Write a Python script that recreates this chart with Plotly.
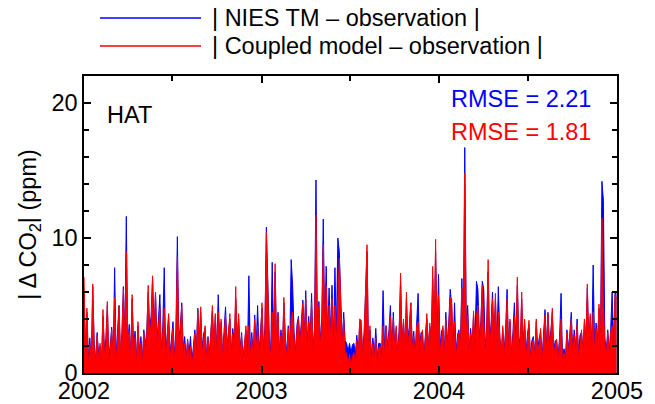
import pandas as pd
import plotly.graph_objects as go

# |model - observation| CO2 at HAT, sampled every 3 days starting 2002-01-01
start_date = "2002-01-01"
step = "3D"

red_2002 = [
    7.1, 1.2, 4.8, 0.6, 2.1, 1.0, 6.6, 1.8, 0.5, 2.8,
    0.9, 2.2, 0.4, 4.7, 1.3, 2.0, 5.3, 0.8, 1.6, 3.2,
    1.1, 5.6, 0.7, 2.4, 5.0, 1.5, 2.6, 6.2, 1.9, 9.0,
    2.3, 3.1, 0.9, 5.8, 1.4, 2.7, 0.6, 3.8, 1.2, 2.2,
    0.5, 3.0, 1.6, 2.5, 6.5, 2.8, 3.6, 7.2, 2.4, 6.0,
    1.8, 3.4, 4.8, 1.1, 2.9, 4.8, 0.7, 2.3, 4.4, 1.0,
    2.1, 3.3, 0.8, 2.6, 8.6, 2.0, 3.0, 5.0, 1.3, 2.2,
    0.6, 2.4, 0.9, 2.0, 0.4, 1.7, 2.9, 1.1, 4.7, 1.9,
    4.9, 1.4, 2.5, 3.5, 0.8, 2.5, 1.0, 2.7, 5.0, 1.6,
    4.4, 1.2, 4.5, 2.0, 4.0, 0.9, 2.6, 4.3, 1.5, 2.8,
    4.4, 1.0, 2.9, 1.7, 6.4, 2.1, 4.4, 1.3, 2.8, 0.7,
    1.9, 3.5, 0.8, 3.5, 1.2, 2.6, 0.9, 4.0, 1.5, 3.5,
    1.0, 2.4,
]
red_2003 = [
    5.2, 1.3, 3.0, 10.4, 6.2, 2.2, 1.1, 4.5,
    2.0, 8.1, 1.7, 4.3, 0.9, 2.8, 1.4, 5.6, 2.3, 1.0,
    3.3, 1.2, 4.0, 4.5, 2.6, 1.1, 3.2, 4.0, 1.8, 3.4,
    5.2, 2.4, 5.5, 1.6, 3.8, 2.2, 5.2, 1.4, 3.0, 11.7,
    2.6, 5.0, 1.9, 3.6, 9.5, 2.8, 6.4, 2.1, 5.0, 2.5,
    5.5, 1.8, 5.0, 2.3, 5.2, 8.5, 5.0, 1.7, 4.0, 1.3,
    1.5, 0.6, 1.4, 0.5, 1.2, 1.5, 0.7, 2.4, 1.0, 4.0,
    3.9, 1.1, 2.6, 6.2, 9.5, 1.4, 3.5, 0.8, 2.2, 1.0,
    2.6, 0.7, 1.8, 2.0, 0.9, 3.5, 1.3, 3.5, 1.6, 2.7,
    4.2, 1.2, 4.0, 1.5, 3.5, 1.0, 2.8, 7.4, 1.9, 4.0,
    1.4, 6.0, 2.0, 3.1, 5.2, 1.6, 2.7, 0.9, 3.5, 3.8,
    1.3, 2.6, 3.2, 0.8, 2.4, 4.4, 1.5, 3.7, 2.1, 7.9,
    2.5, 9.9, 2.0, 5.8,
]
red_2004 = [
    1.4, 2.7, 3.5, 1.1, 4.0, 1.8,
    3.3, 5.6, 5.5, 1.6, 3.8, 1.0, 2.4, 3.0, 1.5, 6.3,
    2.6, 14.8, 3.1, 4.3, 1.2, 2.9, 1.6, 4.6, 1.9, 4.2,
    5.0, 2.2, 3.4, 6.5, 4.0, 1.3, 3.0, 8.4, 1.8, 3.2,
    5.5, 2.0, 5.9, 1.4, 4.5, 2.3, 1.0, 3.5, 1.2, 3.0,
    5.5, 1.6, 4.0, 0.9, 2.6, 4.2, 1.8, 7.1, 2.4, 1.5,
    6.0, 1.7, 4.0, 1.1, 2.5, 3.9, 0.8, 2.0, 2.5, 1.0,
    4.0, 1.3, 2.2, 3.3, 0.7, 2.4, 4.3, 1.5, 4.4, 1.9,
    2.7, 4.8, 1.2, 2.0, 2.5, 0.8, 2.3, 4.0, 0.6, 1.5,
    0.7, 3.0, 1.4, 2.5, 4.0, 1.1, 2.8, 1.5, 3.6, 0.9,
    2.4, 3.2, 1.3, 4.0, 2.1, 6.6, 1.8, 4.4, 1.6, 4.5,
    1.4, 3.3, 2.0, 5.1, 1.7, 11.5, 5.0, 2.2, 1.2, 3.0,
    1.0, 3.0, 3.5, 1.6, 5.8, 5.5,
]

blue_2002 = [
    6.0, 1.6, 4.5, 1.0, 2.6, 0.7, 6.4, 2.2, 0.9, 3.0,
    1.4, 2.0, 0.8, 4.2, 1.8, 2.5, 5.0, 1.2, 2.1, 3.4,
    0.8, 7.8, 1.1, 2.9, 5.0, 1.2, 3.0, 6.4, 2.4, 11.6,
    2.0, 3.6, 1.3, 5.5, 1.9, 3.1, 1.0, 3.5, 1.6, 2.7,
    0.9, 3.2, 2.1, 3.0, 6.0, 3.3, 4.2, 7.1, 2.9, 6.0,
    2.3, 3.9, 5.8, 1.5, 3.4, 7.8, 1.2, 2.8, 4.2, 1.4,
    2.6, 3.8, 1.2, 3.1, 10.1, 2.5, 3.4, 5.2, 1.8, 2.7,
    1.0, 2.5, 1.4, 2.7, 0.8, 2.2, 3.2, 1.5, 4.8, 2.3,
    4.5, 1.8, 2.9, 3.3, 1.2, 2.7, 1.4, 3.1, 4.6, 2.0,
    4.2, 1.6, 5.8, 2.4, 3.8, 1.3, 3.0, 4.9, 1.9, 3.2,
    4.0, 1.4, 3.3, 2.1, 5.5, 2.5, 4.0, 1.7, 3.0, 1.1,
    2.3, 3.2, 1.2, 7.2, 1.6, 3.0, 1.3, 4.3, 1.9, 5.0,
    1.4, 2.8,
]
blue_2003 = [
    4.8, 1.7, 3.4, 10.8, 6.0, 2.6, 1.5, 8.2,
    2.4, 7.5, 2.1, 4.5, 1.3, 3.2, 1.8, 5.2, 2.7, 1.4,
    3.5, 1.6, 8.4, 6.5, 3.0, 1.5, 3.6, 4.2, 2.2, 3.8,
    5.4, 2.8, 6.1, 2.0, 4.2, 2.6, 5.9, 1.8, 3.2, 14.3,
    3.0, 5.3, 2.3, 4.0, 11.4, 3.2, 7.9, 2.5, 6.3, 2.9,
    6.5, 2.2, 7.8, 2.7, 10.0, 9.0, 5.5, 2.1, 4.5, 2.4,
    2.2, 1.6, 2.2, 1.5, 2.1, 2.2, 1.4, 2.8, 1.4, 3.8,
    3.5, 1.5, 3.0, 6.1, 9.0, 1.8, 3.2, 1.2, 2.6, 1.4,
    3.3, 1.1, 2.2, 2.2, 1.3, 6.1, 1.7, 3.5, 2.0, 3.1,
    5.0, 1.6, 4.5, 1.9, 3.3, 1.4, 3.2, 6.8, 2.3, 3.8,
    1.8, 5.5, 2.4, 3.5, 5.2, 2.0, 3.1, 1.3, 3.3, 5.9,
    1.7, 3.0, 3.0, 1.2, 2.8, 4.0, 1.9, 3.5, 2.5, 7.0,
    2.9, 9.0, 2.4, 7.3,
]
blue_2004 = [
    1.8, 3.1, 3.3, 1.5, 4.5, 2.2,
    3.7, 6.2, 5.0, 2.0, 5.2, 1.4, 2.8, 3.2, 1.9, 7.0,
    3.0, 16.7, 3.5, 5.0, 1.6, 3.3, 2.0, 4.3, 2.3, 6.8,
    6.2, 2.6, 3.8, 6.8, 6.2, 1.7, 3.4, 7.5, 2.2, 3.6,
    6.0, 2.4, 5.5, 1.8, 6.4, 2.7, 1.4, 3.3, 1.6, 3.2,
    6.2, 2.0, 3.8, 1.3, 3.0, 5.2, 2.2, 6.5, 2.8, 1.9,
    5.5, 2.1, 3.8, 1.5, 2.9, 3.6, 1.2, 2.4, 2.7, 1.4,
    3.8, 1.7, 2.6, 3.0, 1.1, 2.8, 4.7, 1.9, 4.5, 2.3,
    3.1, 4.5, 1.6, 2.4, 2.3, 1.2, 2.7, 5.9, 1.0, 1.8,
    1.1, 3.2, 1.8, 2.9, 4.5, 1.5, 3.2, 1.9, 4.0, 1.3,
    2.8, 3.0, 1.7, 3.8, 2.5, 6.3, 2.2, 4.2, 2.0, 8.0,
    1.8, 3.7, 2.4, 4.8, 2.1, 14.2, 12.8, 2.6, 1.6, 3.2,
    1.4, 3.2, 6.0, 2.0, 6.0, 6.0,
]

series_names = ["| NIES TM \u2013 observation |", "| Coupled model \u2013 observation |"]
series_colors = ["#0000ff", "#ff0000"]
rmse_values = [2.21, 1.81]
station = "HAT"
year_ticks = ["2002-01-01", "2003-01-01", "2004-01-01", "2005-01-01"]
year_labels = ["2002", "2003", "2004", "2005"]
y_ticks = [0, 10, 20]

blue = blue_2002 + blue_2003 + blue_2004
red = red_2002 + red_2003 + red_2004
dates_b = pd.date_range(start=start_date, periods=len(blue), freq=step)
dates_r = pd.date_range(start=start_date, periods=len(red), freq=step)

FONT = "Liberation Sans, Arial, Helvetica, sans-serif"
FS = 23.5

fig = go.Figure()
fig.add_trace(go.Scatter(x=dates_b, y=blue, mode="lines", fill="tozeroy",
                         fillcolor=series_colors[0],
                         line=dict(color=series_colors[0], width=1),
                         name=series_names[0], showlegend=False))
fig.add_trace(go.Scatter(x=dates_r, y=red, mode="lines", fill="tozeroy",
                         fillcolor=series_colors[1],
                         line=dict(color=series_colors[1], width=1),
                         name=series_names[1], showlegend=False))

L, R, T, B = 84, 38, 76, 31
W, H = 655, 404
pw, ph = W - L - R, H - T - B


def px(xp):
    return (xp - L) / pw


def py(yp):
    return (H - B - yp) / ph


# legend drawn manually (long sample lines)
for i, (nm, col) in enumerate(zip(series_names, series_colors)):
    yy = py(18 + 28 * i)
    fig.add_shape(type="line", xref="paper", yref="paper",
                  x0=px(100), x1=px(201), y0=yy, y1=yy,
                  line=dict(color=col, width=1.5))
    fig.add_annotation(xref="paper", yref="paper", x=px(210), y=yy,
                       xanchor="left", yanchor="middle", text=nm,
                       showarrow=False, font=dict(size=FS, color="black", family=FONT))

fig.add_annotation(xref="paper", yref="paper", x=px(105), y=py(115),
                   xanchor="left", yanchor="middle", text=station,
                   showarrow=False, font=dict(size=FS, color="black", family=FONT))
for i, (v, col) in enumerate(zip(rmse_values, series_colors)):
    fig.add_annotation(xref="paper", yref="paper", x=px(593), y=py(99 + 33 * i),
                       xanchor="right", yanchor="middle", text=f"RMSE = {v:.2f}",
                       showarrow=False, font=dict(size=FS, color=col, family=FONT))

fig.update_layout(
    width=W, height=H,
    margin=dict(l=L, r=R, t=T, b=B),
    paper_bgcolor="white", plot_bgcolor="white",
    font=dict(family=FONT, size=FS, color="black"),
    showlegend=False,
)
fig.update_xaxes(
    type="date", range=[year_ticks[0], year_ticks[-1]],
    tickvals=year_ticks, ticktext=year_labels,
    ticks="inside", ticklen=7, tickwidth=1.5, tickcolor="black",
    minor=dict(dtick="M6", tick0="2002-01-01", ticks="inside", ticklen=5,
               tickwidth=1.5, tickcolor="black", showgrid=False),
    showline=True, linecolor="black", linewidth=1.5, mirror="allticks",
    showgrid=False, zeroline=False, automargin=False,
    ticklabelstandoff=-4,
    tickfont=dict(size=FS, family=FONT),
)
fig.update_yaxes(
    range=[0, 22], tickvals=y_ticks,
    ticks="inside", ticklen=7, tickwidth=1.5, tickcolor="black",
    minor=dict(dtick=2, ticks="inside", ticklen=5, tickwidth=1.5,
               tickcolor="black", showgrid=False),
    showline=True, linecolor="black", linewidth=1.5, mirror="allticks",
    showgrid=False, zeroline=False, automargin=False,
    tickfont=dict(size=FS, family=FONT),
    title=dict(text="| \u0394 CO<sub>2</sub>| (ppm)", standoff=8,
               font=dict(size=FS, family=FONT)),
)

fig.write_html("out.html")
